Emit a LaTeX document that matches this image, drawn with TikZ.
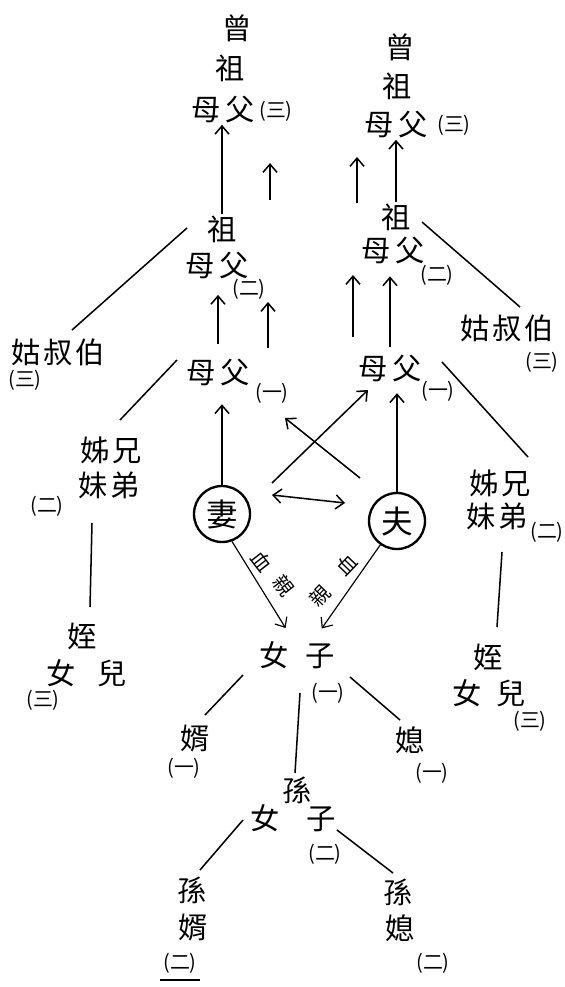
\documentclass[tikz,border=0pt]{standalone}
\usepackage{fontspec}
\newfontfamily\cjk{Noto Sans CJK TC}
\usetikzlibrary{arrows.meta}
\tikzset{
  ci/.style={font=\cjk\fontsize{25}{25}\selectfont, inner sep=1pt},
  nr/.style={font=\cjk\fontsize{17}{17}\selectfont, inner sep=1pt},
  xq/.style={font=\cjk\fontsize{17}{17}\selectfont, inner sep=0pt},
  rel/.style={line width=1.3pt},
  up/.style={rel, -{Straight Barb[length=7pt,width=12pt]}},
  person/.style={circle, draw, line width=2pt, minimum size=1.68cm, inner sep=0pt,
    font=\cjk\fontsize{27}{27}\selectfont}
}
\begin{document}
\begin{tikzpicture}[x=0.03cm, y=-0.03cm]
\useasboundingbox (0,0) rectangle (565,987);
% wife's side
\node[ci] (zengL) at (237,28) {曾};
\node[ci] (zuL3) at (230,68) {祖};
\node[ci] (mfL3) at (223,110) {母\hspace{0.15em}父};
\node[nr] (nL3) at (276,111) {(三)};
\node[ci] (zuL2) at (222,229) {祖};
\node[ci] (mfL2) at (217,266) {母\hspace{0.15em}父};
\node[nr] (nL2) at (249,289) {(二)};
\node[ci] (guL) at (58,352) {姑\hspace{0.1em}叔\hspace{0.1em}伯};
\node[nr] (nguL) at (25,380) {(三)};
\node[ci] (mfL1) at (218,373) {母\hspace{0.15em}父};
\node[nr] (nL1) at (272,393) {(一)};
\node[ci] (xdL1) at (111,450) {姊\hspace{0.1em}兄};
\node[ci] (xdL2) at (109,485) {妹\hspace{0.1em}弟};
\node[nr] (nxdL) at (47,506) {(二)};
\node[ci] (zhiL1) at (82,636) {姪};
\node[ci] (zhiL2) at (87,673) {女\hspace{0.75em}兒};
\node[nr] (nzhiL) at (43,700) {(三)};
\node[person] (wife) at (222,514) {妻};
% husband's side
\node[ci] (zengR) at (400,47) {曾};
\node[ci] (zuR3) at (397,86) {祖};
\node[ci] (mfR3) at (396,125) {母\hspace{0.15em}父};
\node[nr] (nR3) at (454,125) {(三)};
\node[ci] (zuR2) at (396,217) {祖};
\node[ci] (mfR2) at (393,251) {母\hspace{0.15em}父};
\node[nr] (nR2) at (437,275) {(二)};
\node[ci] (guR) at (507,328) {姑\hspace{0.1em}叔\hspace{0.1em}伯};
\node[nr] (nguR) at (542,362) {(三)};
\node[ci] (mfR1) at (390,369) {母\hspace{0.15em}父};
\node[nr] (nR1) at (438,391) {(一)};
\node[ci] (xdR1) at (500,483) {姊\hspace{0.1em}兄};
\node[ci] (xdR2) at (497,516) {妹\hspace{0.1em}弟};
\node[nr] (nxdR) at (547,532) {(二)};
\node[ci] (zhiR1) at (488,657) {姪};
\node[ci] (zhiR2) at (489,693) {女\hspace{0.5em}兒};
\node[nr] (nzhiR) at (530,721) {(三)};
\node[person] (husband) at (397,521) {夫};
% children
\node[ci] (child) at (297,655) {女\hspace{0.55em}子};
\node[nr] (nchild) at (328,693) {(一)};
\node[ci] (xu) at (195,739) {婿};
\node[nr] (nxu) at (184,768) {(一)};
\node[ci] (xi) at (410,740) {媳};
\node[nr] (nxi) at (432,773) {(一)};
\node[ci] (sun1) at (297,790) {孫};
\node[ci] (sun2) at (293,818) {女\hspace{0.9em}子};
\node[nr] (nsun) at (325,854) {(二)};
\node[ci] (sxu1) at (192,890) {孫};
\node[ci] (sxu2) at (193,928) {婿};
\node[nr] (nsxu) at (180,963) {(二)};
\node[ci] (sxi1) at (398,892) {孫};
\node[ci] (sxi2) at (400,928) {媳};
\node[nr] (nsxi) at (433,963) {(二)};
% free ends
\coordinate (sL3a) at (270,200); \coordinate (sL3b) at (270,163);
\coordinate (sL2a) at (268,348); \coordinate (sL2b) at (268,302);
\coordinate (sR3a) at (357,203); \coordinate (sR3b) at (357,157);
\coordinate (sR2a) at (353,337); \coordinate (sR2b) at (353,275);
\coordinate (wifeX) at (272,483); \coordinate (toMfR) at (368,390);
\coordinate (husbX) at (360,478); \coordinate (toMfL) at (285,418);
\coordinate (wifeM) at (272,495); \coordinate (husbM) at (345,503);
\coordinate (zuL-a) at (187,228); \coordinate (guL-a) at (72,330);
\coordinate (mfL-a) at (177,360); \coordinate (xdL-a) at (120,420);
\coordinate (xdL-b) at (92,523); \coordinate (zhiL-a) at (90,607);
\coordinate (zuR-a) at (422,222); \coordinate (guR-a) at (520,307);
\coordinate (mfR-a) at (442,362); \coordinate (xdR-a) at (528,457);
\coordinate (xdR-b) at (502,552); \coordinate (zhiR-a) at (497,627);
\coordinate (child-l) at (243,675); \coordinate (xu-a) at (205,715);
\coordinate (child-r) at (350,677); \coordinate (xi-a) at (400,720);
\coordinate (child-b) at (300,693); \coordinate (sun-a) at (295,773);
\coordinate (sun-l) at (243,820); \coordinate (sxu-a) at (200,870);
\coordinate (sun-r) at (337,830); \coordinate (sxi-a) at (393,873);
\coordinate (ul-a) at (160,980); \coordinate (ul-b) at (200,980);
% upward lines
\draw[up] (zuL2.north) -- (zuL2.north |- mfL3.south);
\draw[up] (sL3a) -- (sL3b);
\draw[up, shorten <=12pt, shorten >=12pt] (mfL1.north) -- (mfL1.north |- mfL2.south);
\draw[up] (sL2a) -- (sL2b);
\draw[up, shorten >=14pt] (wife.north) -- (wife.north |- mfL1.south);
\draw[up] (zuR2.north) -- (zuR2.north |- mfR3.south);
\draw[up] (sR3a) -- (sR3b);
\draw[up] (sR2a) -- (sR2b);
\draw[up, shorten <=6pt, shorten >=9pt] (mfR1.north) -- (mfR1.north |- mfR2.south);
\draw[up, shorten >=8pt] (husband.north) -- (husband.north |- mfR1.south);
% in-laws
\draw[up] (wifeX) -- (toMfR);
\draw[up] (husbX) -- (toMfL);
\draw[rel, {Straight Barb[length=7pt,width=12pt]}-{Straight Barb[length=7pt,width=12pt]}] (wifeM) -- (husbM);
% blood kin
\draw[up, line width=1pt, shorten >=12pt] (wife.-70) -- ([xshift=-0.12cm]child.north);
\draw[up, line width=1pt, shorten >=12pt] (husband.-125) -- ([xshift=0.5cm]child.north);
\node[xq, rotate=-52] (xueL) at (262,561) {血};
\node[xq, rotate=-52] (qinL) at (284,586) {親};
\node[xq, rotate=46] (xueR) at (347,565) {血};
\node[xq, rotate=46] (qinR) at (320,596) {親};
% side lines
\draw[rel] (zuL-a) -- (guL-a);
\draw[rel] (mfL-a) -- (xdL-a);
\draw[rel] (xdL-b) -- (zhiL-a);
\draw[rel] (zuR-a) -- (guR-a);
\draw[rel] (mfR-a) -- (xdR-a);
\draw[rel] (xdR-b) -- (zhiR-a);
\draw[rel] (child-l) -- (xu-a);
\draw[rel] (child-r) -- (xi-a);
\draw[rel] (child-b) -- (sun-a);
\draw[rel] (sun-l) -- (sxu-a);
\draw[rel] (sun-r) -- (sxi-a);
\draw[rel] (ul-a) -- (ul-b);
\end{tikzpicture}
\end{document}
